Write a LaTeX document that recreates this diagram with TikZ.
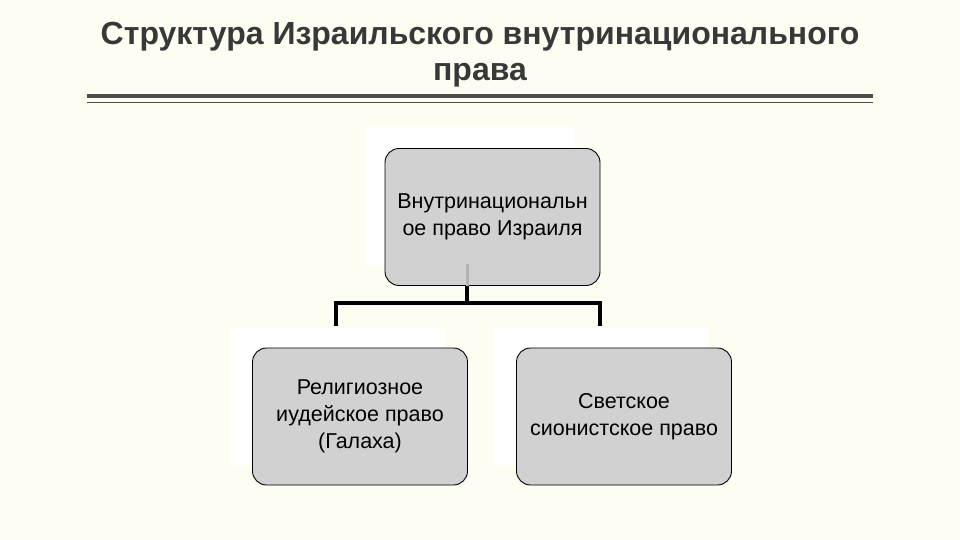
\documentclass[tikz,border=0pt]{standalone}
\usepackage{fontspec}
\setmainfont{Liberation Sans}
\definecolor{bgc}{HTML}{FDFDF2}
\begin{document}
\begin{tikzpicture}[x=1pt,y=-1pt,
  box/.style={draw=black,line width=0.9pt,fill=black!18,rounded corners=14pt,minimum width=215pt,minimum height=137pt,align=center,font=\fontsize{21.5}{27}\selectfont},
  conn/.style={line width=4pt}]
\useasboundingbox (0,0) rectangle (960,540);
\fill[bgc] (0,0) rectangle (960,540);
\fill[white] (365,127) rectangle (575,265);
\fill[white] (230,328) rectangle (445,465);
\fill[white] (494,328) rectangle (708,465);
\node[font=\bfseries\fontsize{32}{36}\selectfont,text=black!78,align=center] (title) at (480,55) {Структура Израильского внутринационального\\права};
\draw[line width=4pt,black!70] (87,96.5) -- (873,96.5);
\draw[line width=1.2pt,black!70] (87,102.5) -- (873,102.5);
\node[box] (top) at (492.5,217) {Внутринациональн\\ое право Израиля};
\node[box] (left) at (360,416.5) {Религиозное\\иудейское право\\(Галаха)};
\node[box] (right) at (624,416.5) {Светское\\сионистское право};
\coordinate (j) at (467,303);
\coordinate (lj) at (336,303);
\coordinate (rj) at (600,303);
\draw[line width=3pt,black!30] (467,264) -- (top.south -| j);
\draw[conn] (top.south -| j) -- (j);
\draw[conn,line cap=rect] (lj) -- (rj);
\draw[conn] (lj) -- (336,326);
\draw[conn] (rj) -- (600,326);
\end{tikzpicture}
\end{document}
